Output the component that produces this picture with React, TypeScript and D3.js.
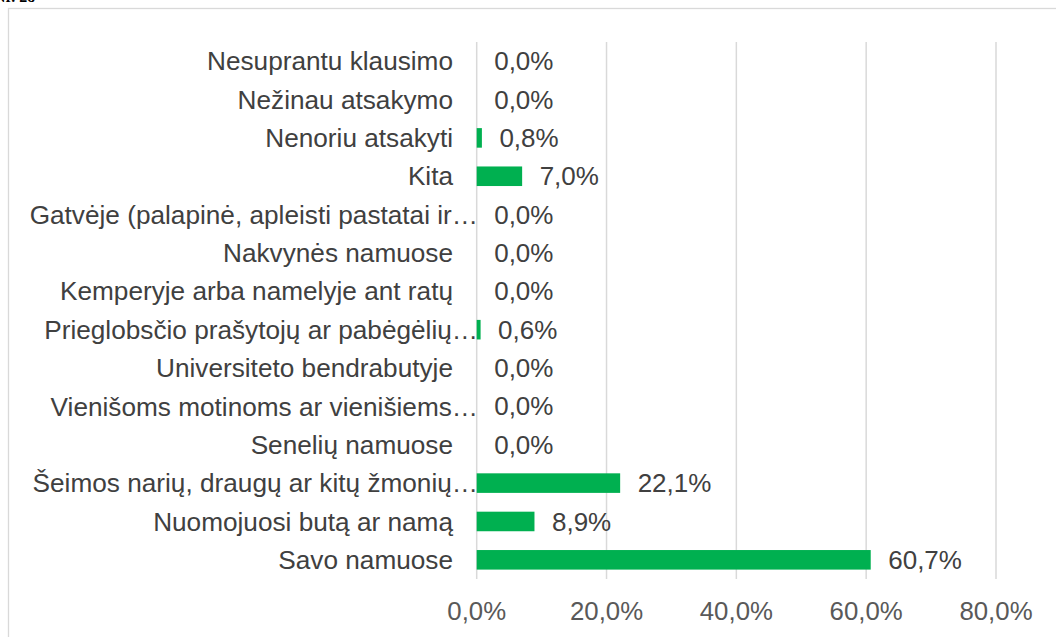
import React from "react";
import * as d3 from "d3";

// categories top -> bottom as shown in the chart
const categories = [
    "Nesuprantu klausimo",
    "Nežinau atsakymo",
    "Nenoriu atsakyti",
    "Kita",
    "Gatvėje (palapinė, apleisti pastatai ir…",
    "Nakvynės namuose",
    "Kemperyje arba namelyje ant ratų",
    "Prieglobsčio prašytojų ar pabėgėlių…",
    "Universiteto bendrabutyje",
    "Vienišoms motinoms ar vienišiems…",
    "Senelių namuose",
    "Šeimos narių, draugų ar kitų žmonių…",
    "Nuomojuosi butą ar namą",
    "Savo namuose",
];
const values = [0, 0, 0.8, 7.0, 0, 0, 0, 0.6, 0, 0, 0, 22.1, 8.9, 60.7];
const xTicks = [0, 20, 40, 60, 80];

const W = 1056;
const H = 637;
const FONT = "'Liberation Sans', Arial, sans-serif";

const pct = (v: number) => d3.format(".1f")(v).replace(".", ",") + "%";

export default function App() {
    const x = d3.scaleLinear().domain([0, 80]).range([476.7, 996]);
    const y = d3
        .scaleBand<string>()
        .domain(categories)
        .range([42, 579])
        .paddingInner(0.49)
        .paddingOuter(0.245);

    return (
        <svg
            width={W}
            height={H}
            style={{ position: "absolute", left: 0, top: 0, background: "#fff" }}
            fontFamily={FONT}
        >
            {/* cut-off caption above the chart */}
            <text x={-6} y={2} fontFamily="'Liberation Serif', serif" fontWeight="bold" fontSize={16} fill="#000">
                Nr. 28
            </text>
            <rect x={8.5} y={8.5} width={1200} height={800} fill="none" stroke="#d9d9d9" strokeWidth={1.3} />

            {/* gridlines */}
            {xTicks.map((t) => (
                <line key={t} x1={x(t)} x2={x(t)} y1={42} y2={579} stroke="#d9d9d9" strokeWidth={1.5} />
            ))}

            {/* bars */}
            {categories.map((c, i) => (
                <rect
                    key={c}
                    x={x(0)}
                    y={y(c)}
                    width={x(values[i]) - x(0)}
                    height={y.bandwidth()}
                    fill="#00B050"
                />
            ))}

            {/* category labels */}
            {categories.map((c) => (
                <text
                    key={c}
                    x={c.endsWith("…") ? 478 : 453}
                    y={(y(c) ?? 0) + y.bandwidth() / 2}
                    dy="0.35em"
                    textAnchor="end"
                    fontSize={26.2}
                    fill="#404040"
                >
                    {c}
                </text>
            ))}

            {/* value labels */}
            {categories.map((c, i) => (
                <text
                    key={c}
                    x={x(values[i]) + 17.5}
                    y={(y(c) ?? 0) + y.bandwidth() / 2}
                    dy="0.35em"
                    fontSize={26}
                    fill="#404040"
                >
                    {pct(values[i])}
                </text>
            ))}

            {/* x axis labels */}
            {xTicks.map((t) => (
                <text key={t} x={x(t)} y={611} dy="0.35em" textAnchor="middle" fontSize={25.8} fill="#595959">
                    {pct(t)}
                </text>
            ))}
        </svg>
    );
}
